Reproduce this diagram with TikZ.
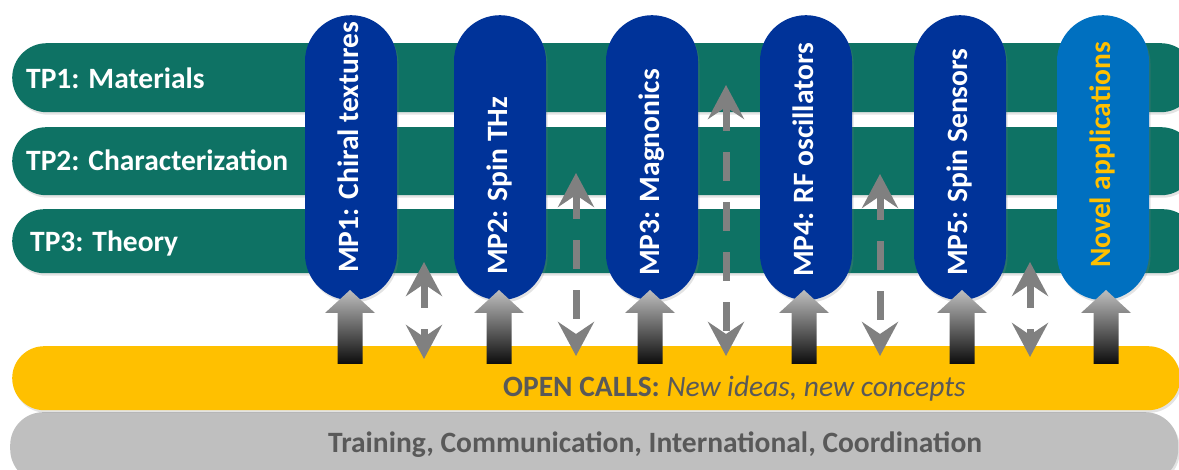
\documentclass[tikz,border=0pt]{standalone}
\usepackage{fontspec}
\setmainfont{Carlito}
\usetikzlibrary{arrows.meta,shadows}
\definecolor{tpgreen}{RGB}{14,114,100}
\definecolor{mpblue}{RGB}{0,51,153}
\definecolor{novblue}{RGB}{0,112,192}
\definecolor{callyellow}{RGB}{255,192,0}
\definecolor{basegray}{RGB}{191,191,191}
\definecolor{textgray}{RGB}{89,89,89}
\definecolor{linkgray}{RGB}{128,128,128}

% thick shaded arrow whose tip sits at the given coordinate
\newcommand\feedarrow[1]{%
  \begin{scope}[shift={(#1)}]
    \shade[top color={rgb,255:red,190;green,190;blue,190},
           middle color={rgb,255:red,135;green,135;blue,135},
           bottom color={rgb,255:red,12;green,12;blue,12}]
      (0,0) -- (25,23) -- (12.5,23) -- (12.5,74) -- (-12.5,74)
      -- (-12.5,23) -- (-25,23) -- cycle;
  \end{scope}}

\begin{document}
\begin{tikzpicture}[x=1pt,y=-1pt,
  bigfont/.style={font=\fontsize{29.5}{31}\selectfont\bfseries},
  softshadow/.style={drop shadow={shadow xshift=1.5pt,shadow yshift=-2.5pt,opacity=0.22}},
  bar/.style={inner sep=0pt,anchor=north west,softshadow},
  pill/.style={fill=mpblue,inner sep=0pt,anchor=north,minimum width=92pt,
               minimum height=285pt,rounded corners=46pt,softshadow},
  tplabel/.style={bigfont,text=white,anchor=base west,inner sep=0pt},
  mplabel/.style={bigfont,text=white,rotate=90,anchor=base west,inner sep=0pt},
  link/.style={draw=linkgray,line width=7pt,dash pattern=on 29pt off 21pt,
               dash phase=3pt,arrows={Stealth[length=34pt,width=36pt,inset=12pt]-Stealth[length=34pt,width=36pt,inset=12pt]}}
]
\useasboundingbox (0,0) rectangle (1179,470);
\clip (0,0) rectangle (1179,470);

% thematic platforms
\node[bar,fill=tpgreen,minimum width=1183pt,minimum height=69pt,rounded corners=34.5pt] (tp1) at (12,43) {};
\node[bar,fill=tpgreen,minimum width=1183pt,minimum height=68pt,rounded corners=34pt] (tp2) at (12,127) {};
\node[bar,fill=tpgreen,minimum width=1183pt,minimum height=64pt,rounded corners=32pt] (tp3) at (12,209) {};

% base layers
\node[bar,fill=basegray,minimum width=1168pt,minimum height=70pt,rounded corners=33pt] (base) at (10,412) {};
\node[bar,fill=callyellow,minimum width=1168pt,minimum height=64pt,rounded corners=32pt] (calls) at (12,346) {};

\node[tplabel] (tp1t) at (26,89) {TP1: Materials};
\node[tplabel] (tp2t) at (26,171) {TP2: Characterization};
\node[tplabel] (tp3t) at (30,252) {TP3: Theory};

% main projects
\node[pill] (mp1) at (351,15) {};
\node[pill] (mp2) at (500,15) {};
\node[pill] (mp3) at (652,15) {};
\node[pill] (mp4) at (806,15) {};
\node[pill] (mp5) at (960,15) {};
\node[pill,fill=novblue] (nov) at (1103,15) {};

\node[mplabel] (mp1t) at (358,273) {MP1: Chiral textures};
\node[mplabel] (mp2t) at (507,275) {MP2: Spin THz};
\node[mplabel] (mp3t) at (659,276) {MP3: Magnonics};
\node[mplabel] (mp4t) at (813,277) {MP4: RF oscillators};
\node[mplabel] (mp5t) at (967,276) {MP5: Spin Sensors};
\node[mplabel,text=callyellow] (novt) at (1110,268) {Novel applications};

% links between open calls and the platforms
\coordinate (l1a) at (424,262); \coordinate (l1b) at (424,359);
\coordinate (l2a) at (576,173); \coordinate (l2b) at (576,356);
\coordinate (l3a) at (726,85);  \coordinate (l3b) at (726,356);
\coordinate (l4a) at (880,174); \coordinate (l4b) at (880,356);
\coordinate (l5a) at (1030,262); \coordinate (l5b) at (1030,357);
\draw[link] (l1a) -- (l1b);
\draw[link] (l2a) -- (l2b);
\draw[link] (l3a) -- (l3b);
\draw[link] (l4a) -- (l4b);
\draw[link] (l5a) -- (l5b);

% feeds from open calls into the projects
\coordinate (f1) at (350,290);
\coordinate (f2) at (499,290);
\coordinate (f3) at (650,290);
\coordinate (f4) at (804,290);
\coordinate (f5) at (962,290);
\coordinate (f6) at (1106,290);
\feedarrow{f1}\feedarrow{f2}\feedarrow{f3}\feedarrow{f4}\feedarrow{f5}\feedarrow{f6}

\node[bigfont,text=textgray,anchor=base west,inner sep=0pt] (callst) at (503,397)
  {OPEN CALLS: \normalfont\fontsize{29.5}{31}\selectfont\itshape New ideas, new concepts};
\node[bigfont,text=textgray,anchor=base west,inner sep=0pt] (baset) at (328,453)
  {Training, Communication, International, Coordination};
\end{tikzpicture}
\end{document}
